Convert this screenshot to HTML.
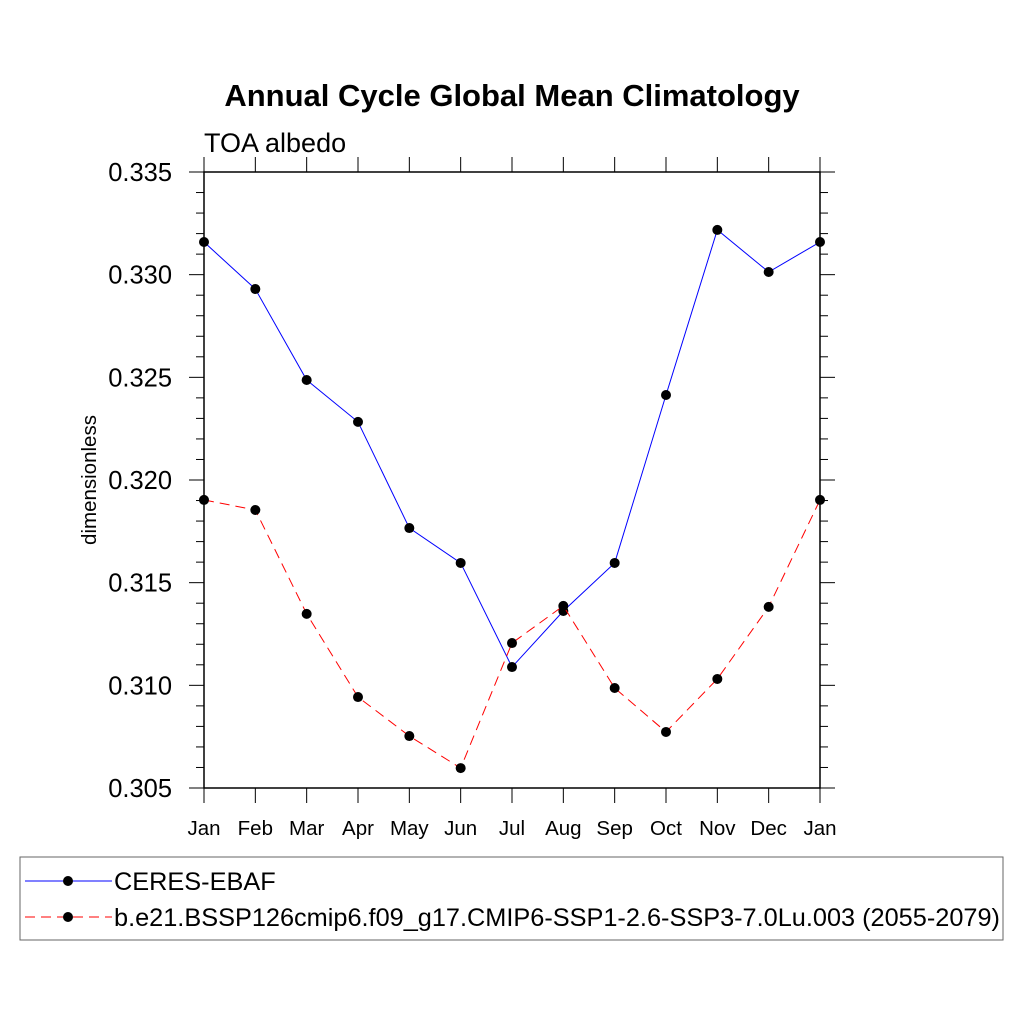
<!DOCTYPE html>
<html><head><meta charset="utf-8"><style>body{margin:0;background:#fff}svg{display:block;font-family:"Liberation Sans",sans-serif}</style></head>
<body>
<svg id="chart" width="1024" height="1024" viewBox="0 0 1024 1024">
<text x="512" y="106" text-anchor="middle" font-size="31" font-weight="bold">Annual Cycle Global Mean Climatology</text>
<text x="204" y="152" font-size="27">TOA albedo</text>
<text transform="translate(96,480) rotate(-90)" text-anchor="middle" font-size="20.5">dimensionless</text>
<g id="axes"></g><g id="series"></g>
<rect x="20" y="857" width="983" height="83" fill="none" stroke="#666" stroke-width="1"/>
<g>
<line x1="25" y1="881" x2="112" y2="881" stroke="#00f" stroke-width="1"/><circle cx="68" cy="881" r="5" fill="#000"/>
<text x="114" y="890" font-size="25.3">CERES-EBAF</text></g>
<g>
<line x1="25" y1="917" x2="112" y2="917" stroke="#f00" stroke-width="1" stroke-dasharray="10,6"/><circle cx="68" cy="917" r="5" fill="#000"/>
<text x="114" y="926" font-size="25.3">b.e21.BSSP126cmip6.f09_g17.CMIP6-SSP1-2.6-SSP3-7.0Lu.003 (2055-2079)</text></g>
</svg>
<script>
const months=["Jan","Feb","Mar","Apr","May","Jun","Jul","Aug","Sep","Oct","Nov","Dec","Jan"];
const ceres=[0.33159,0.32930,0.32487,0.32283,0.31766,0.31596,0.31089,0.31362,0.31596,0.32414,0.33218,0.33013,0.33159];
const model=[0.31903,0.31854,0.31348,0.30943,0.30753,0.30597,0.31206,0.31387,0.30987,0.30773,0.31031,0.31382,0.31903];
const yTicks=["0.305","0.310","0.315","0.320","0.325","0.330","0.335"];
const NS="http://www.w3.org/2000/svg";
const L=204,R=820,T=172,B=788,ymin=0.305,ymax=0.335;
const xs=i=>L+i*(R-L)/12, ys=v=>B-(v-ymin)/(ymax-ymin)*(B-T);
function mk(t,a,p){const e=document.createElementNS(NS,t);for(const k in a)e.setAttribute(k,a[k]);p.appendChild(e);return e;}
const ax=document.getElementById('axes');
const fr=mk('rect',{x:L,y:T,width:R-L,height:B-T,fill:'none',stroke:'#000','stroke-width':1.5},ax);


months.forEach((m,i)=>{const x=xs(i);
mk('line',{x1:x,y1:B,x2:x,y2:B+15,stroke:'#000'},ax);mk('line',{x1:x,y1:T,x2:x,y2:T-15,stroke:'#000'},ax);
const t=mk('text',{x:x,y:B+47,'text-anchor':'middle','font-size':20.5},ax);t.textContent=m;

});
for(let k=0;k<=30;k++){const v=ymin+k*0.001,y=ys(v),maj=k%5==0,len=maj?15:8;
mk('line',{x1:L,y1:y,x2:L-len,y2:y,stroke:'#000'},ax);mk('line',{x1:R,y1:y,x2:R+len,y2:y,stroke:'#000'},ax);}
yTicks.forEach(s=>{const y=ys(parseFloat(s));const t=mk('text',{x:L-32,y:y+9,'text-anchor':'end','font-size':25.5},ax);t.textContent=s;

});
const sg=document.getElementById('series');
function draw(vals,col,dash,name){const g=mk('g',{},sg);


mk('polyline',{points:vals.map((v,i)=>xs(i)+','+ys(v)).join(' '),fill:'none',stroke:col,'stroke-width':1,'stroke-dasharray':dash},g);
vals.forEach((v,i)=>{const c=mk('circle',{cx:xs(i),cy:ys(v),r:5,fill:'#000'},g);

});}
draw(ceres,'#00f','none','ceres-series');
draw(model,'#f00','10,6','model-series');
</script>
</body></html>
